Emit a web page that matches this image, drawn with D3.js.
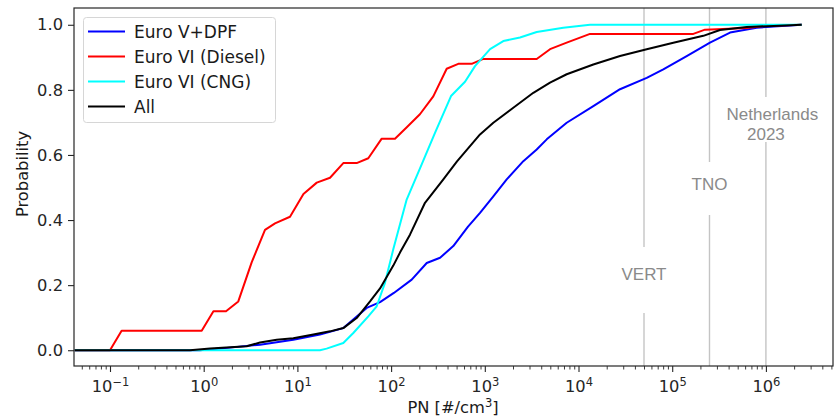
<!DOCTYPE html>
<html><head><meta charset="utf-8">
<script src="https://cdn.jsdelivr.net/npm/d3@7"></script>
<style>
body{margin:0;background:#fff;}
svg{display:block;font-family:"DejaVu Sans",sans-serif;}
</style></head>
<body><svg id="c" width="835" height="418"></svg>
<script>
// ---- data (PN [#/cm3], cumulative probability) ----
const seriesNames = ["Euro V+DPF", "Euro VI (Diesel)", "Euro VI (CNG)", "All"];
const seriesColors = ["#0000ff", "#ff0000", "#00ffff", "#000000"];

const euroV_pn = [0.042,0.91,1.91,3.99,9.04,17.4,30.9,54.9,76.2,107,166,240,333,461,662,889,1233,1713,2576,3580,4580,7480,14390,27730,53450,80350,142800,253000,414000,797000,2410000];
const euroV_p  = [0,0,0.008,0.017,0.032,0.048,0.068,0.13,0.148,0.176,0.217,0.268,0.284,0.32,0.38,0.422,0.473,0.525,0.581,0.617,0.648,0.699,0.75,0.802,0.837,0.863,0.904,0.945,0.976,0.991,1.0];

const diesel_pn = [0.042,0.1,0.133,0.952,1.27,1.73,2.34,3.25,4.51,5.77,8.34,11.6,16.1,22.3,30.9,42.9,57.1,79.4,110,147,203,282,392,521,724,964,3580,4966,7480,13270,168000,224000,624000,1020000,2410000];
const diesel_p  = [0,0,0.06,0.06,0.12,0.12,0.15,0.27,0.37,0.39,0.41,0.48,0.515,0.53,0.575,0.575,0.59,0.65,0.65,0.685,0.725,0.78,0.865,0.88,0.88,0.895,0.895,0.925,0.945,0.972,0.972,0.985,0.99,0.997,1.0];

const cng_pn = [0.042,17.4,20.5,30.9,39.5,57.1,70.2,86.0,105.5,146.6,212,294,436,615,786,1138,1575,2375,3580,6880,13270,2410000];
const cng_p  = [0,0,0.005,0.022,0.053,0.104,0.135,0.207,0.31,0.463,0.571,0.668,0.781,0.825,0.873,0.925,0.95,0.961,0.978,0.991,1.0,1.0];

const all_pn = [0.042,0.714,1.17,2.88,3.99,6.01,9.04,14.8,22.3,30.9,42.9,59.6,76.2,105.5,124.4,159,230,361,505,889,1233,2014,3296,4966,7480,14390,27730,53450,102800,214800,323600,624000,2410000];
const all_p  = [0,0,0.005,0.012,0.024,0.032,0.037,0.048,0.058,0.068,0.099,0.15,0.19,0.26,0.30,0.355,0.453,0.525,0.58,0.663,0.699,0.745,0.791,0.822,0.848,0.878,0.904,0.925,0.945,0.966,0.984,0.993,1.0];

const limitNames = ["VERT", "TNO", "Netherlands", "2023"];
const limitValues = [5e4, 2.5e5, 1e6];

const yTicks = [0, 0.2, 0.4, 0.6, 0.8, 1.0];
const xMajorExp = [-1, 0, 1, 2, 3, 4, 5, 6];

// ---- layout ----
const L = 74, R = 833, T = 8, B = 366;
const svg = d3.select("#c");
const x = d3.scaleLog().domain([Math.pow(10,-1.3842), Math.pow(10,6.716)]).range([L, R]);
const y = d3.scaleLinear().domain([-0.05, 1.05]).range([B + 0.5, T + 0.5]);

// reference lines with gaps for labels
const gaps = [[247, 313], [162, 215], [97, 142]];
limitValues.forEach((v, i) => {
  const xv = x(v);
  svg.append("line").attr("x1", xv).attr("x2", xv).attr("y1", T).attr("y2", gaps[i][0])
    .attr("stroke", "#c4c4c4").attr("stroke-width", 1.4);
  svg.append("line").attr("x1", xv).attr("x2", xv).attr("y1", gaps[i][1]).attr("y2", B)
    .attr("stroke", "#c4c4c4").attr("stroke-width", 1.4);
});
const annot = svg.append("g").attr("font-family", "'Liberation Sans', Arial, sans-serif")
  .attr("font-size", 17).attr("fill", "#8a8a8a").attr("text-anchor", "middle");
annot.append("text").attr("x", x(limitValues[0])).attr("y", 279.5).text(limitNames[0]);
annot.append("text").attr("x", x(limitValues[1])).attr("y", 189.5).text(limitNames[1]);
annot.append("text").attr("x", x(limitValues[2]) + 6.5).attr("y", 120).text(limitNames[2]);
annot.append("text").attr("x", x(limitValues[2])).attr("y", 139.5).text(limitNames[3]);

// curves
const clipId = "clip";
svg.append("clipPath").attr("id", clipId).append("rect").attr("x", L).attr("y", T).attr("width", R - L).attr("height", B - T);
const line = d3.line().x(d => x(d[0])).y(d => y(d[1]));
const series = [[euroV_pn, euroV_p], [diesel_pn, diesel_p], [cng_pn, cng_p], [all_pn, all_p]];
series.forEach((s, i) => {
  const pts = s[0].map((v, k) => [v, s[1][k]]);
  svg.append("path").datum(pts).attr("d", line).attr("fill", "none")
    .attr("stroke", seriesColors[i]).attr("stroke-width", 2).attr("stroke-linejoin", "round")
    .attr("clip-path", `url(#${clipId})`);
});

// frame
svg.append("rect").attr("x", L).attr("y", T).attr("width", R - L).attr("height", B - T)
  .attr("fill", "none").attr("stroke", "#262626").attr("stroke-width", 1.2);

// y axis
const yAxis = svg.append("g").attr("transform", `translate(${L},0)`)
  .call(d3.axisLeft(y).tickValues(yTicks).tickFormat(d3.format(".1f")).tickSize(6).tickPadding(5));
yAxis.select(".domain").remove();
yAxis.selectAll(".tick line").attr("stroke", "#262626").attr("stroke-width", 1.1);
yAxis.selectAll(".tick text").attr("font-size", 16.3).attr("fill", "#262626")
  .attr("font-family", "'DejaVu Sans', sans-serif");

// x axis major
const majors = xMajorExp.map(e => Math.pow(10, e));
const xAxis = svg.append("g").attr("transform", `translate(0,${B})`)
  .call(d3.axisBottom(x).tickValues(majors).tickFormat(() => "").tickSize(6).tickPadding(4));
xAxis.select(".domain").remove();
xAxis.selectAll(".tick line").attr("stroke", "#262626").attr("stroke-width", 1.1);
xAxis.selectAll(".tick text").each(function(d, i) {
  const t = d3.select(this);
  t.attr("font-size", 16.3).attr("fill", "#262626").attr("y", 26).attr("dy", null)
   .attr("font-family", "'DejaVu Sans', sans-serif").attr("text-anchor", "middle");
  t.text(null);
  t.append("tspan").text("10");
  const e = xMajorExp[i];
  t.append("tspan").attr("font-size", 11.5).attr("dy", -6.5).text(e < 0 ? "\u2212" + (-e) : String(e));
});

// x axis minor
const minors = [];
for (let e = -2; e <= 6; e++) for (let m = 2; m <= 9; m++) {
  const v = m * Math.pow(10, e);
  if (v >= x.domain()[0] && v <= x.domain()[1]) minors.push(v);
}
const xMinor = svg.append("g").attr("transform", `translate(0,${B})`)
  .call(d3.axisBottom(x).tickValues(minors).tickFormat(() => "").tickSize(3.5));
xMinor.select(".domain").remove();
xMinor.selectAll(".tick line").attr("stroke", "#262626").attr("stroke-width", 0.9);

// axis labels
const xl = svg.append("text").attr("x", 453).attr("y", 413).attr("text-anchor", "middle")
  .attr("font-size", 16.3).attr("fill", "#1a1a1a");
xl.append("tspan").text("PN [#/cm");
xl.append("tspan").attr("font-size", 11.5).attr("dy", -6).text("3");
xl.append("tspan").attr("dy", 6).text("]");
svg.append("text").attr("transform", "translate(28,174) rotate(-90)").attr("text-anchor", "middle")
  .attr("font-size", 16.3).attr("fill", "#1a1a1a").text("Probability");

// legend
const lg = svg.append("g");
lg.append("rect").attr("x", 83.5).attr("y", 17.5).attr("width", 192).attr("height", 105).attr("rx", 3)
  .attr("fill", "#fff").attr("fill-opacity", 0.8).attr("stroke", "#d6d6d6").attr("stroke-width", 1);
seriesNames.forEach((n, i) => {
  const yy = 31.5 + i * 25;
  lg.append("line").attr("x1", 88).attr("x2", 125).attr("y1", yy).attr("y2", yy)
    .attr("stroke", seriesColors[i]).attr("stroke-width", 2);
  lg.append("text").attr("x", 134).attr("y", yy + 6).attr("font-size", 17).attr("fill", "#1a1a1a").text(n);
});
</script></body></html>
